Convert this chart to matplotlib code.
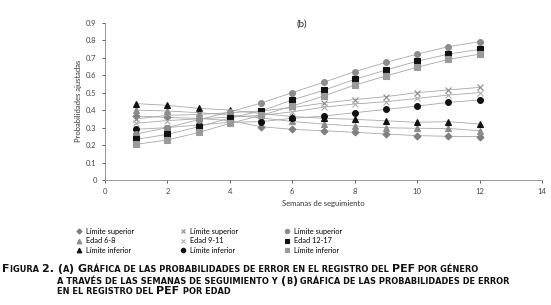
import numpy as np
import matplotlib
matplotlib.use('Agg')
import matplotlib.pyplot as plt

weeks = [1, 2, 3, 4, 5, 6, 7, 8, 9, 10, 11, 12]
sup_6_8 = [0.366, 0.358, 0.352, 0.34, 0.305, 0.29, 0.282, 0.273, 0.263, 0.254, 0.25, 0.248]
edad_6_8 = [0.40, 0.395, 0.385, 0.372, 0.355, 0.335, 0.32, 0.309, 0.299, 0.296, 0.295, 0.282]
inf_6_8 = [0.437, 0.427, 0.41, 0.40, 0.38, 0.363, 0.353, 0.347, 0.339, 0.33, 0.334, 0.32]
sup_9_11 = [0.35, 0.37, 0.375, 0.385, 0.395, 0.415, 0.44, 0.46, 0.477, 0.50, 0.515, 0.53]
edad_9_11 = [0.325, 0.34, 0.35, 0.36, 0.37, 0.39, 0.416, 0.435, 0.448, 0.467, 0.486, 0.50]
inf_9_11 = [0.29, 0.30, 0.315, 0.33, 0.334, 0.353, 0.366, 0.385, 0.404, 0.423, 0.444, 0.458]
sup_12_17 = [0.263, 0.30, 0.345, 0.39, 0.44, 0.50, 0.559, 0.62, 0.673, 0.72, 0.763, 0.791]
edad_12_17 = [0.233, 0.261, 0.305, 0.355, 0.395, 0.458, 0.513, 0.576, 0.629, 0.68, 0.72, 0.748]
inf_12_17 = [0.204, 0.229, 0.272, 0.324, 0.37, 0.423, 0.48, 0.543, 0.595, 0.645, 0.69, 0.72]

labels = ['Límite superior', 'Edad 6-8', 'Límite inferior',
          'Límite superior', 'Edad 9-11', 'Límite inferior',
          'Límite superior', 'Edad 12-17', 'Límite inferior']

plt.rcParams['font.family'] = ['Lato', 'DejaVu Sans']

fig = plt.figure(figsize=(5.51, 3.05), dpi=100)
ax = fig.add_axes([0.1906, 0.4098, 0.7931, 0.5158])

series = [sup_6_8, edad_6_8, inf_6_8, sup_9_11, edad_9_11, inf_9_11,
          sup_12_17, edad_12_17, inf_12_17]
styles = [('D', '#7f7f7f', 3.5), ('^', '#8c8c8c', 4.5), ('^', '#111111', 4.5),
          ('x', '#8a8a8a', 4.5), ('x', '#b0b0b0', 4.5), ('o', '#111111', 4.2),
          ('o', '#8c8c8c', 4.2), ('s', '#111111', 4.2), ('s', '#9a9a9a', 4.2)]
for vals, (m, c, s), lab in zip(series, styles, labels):
    ax.plot(weeks, vals, color='#a8a8a8', lw=0.6, marker=m, ms=s,
            mfc=c, mec=c, mew=0.8, label=lab)

ax.set_xlim(0, 14)
ax.set_ylim(0, 0.9)
ax.set_xticks(range(0, 15, 2))
ax.set_yticks(np.arange(0, 0.91, 0.1))
ax.set_yticklabels(['0'] + ['%.1f' % v for v in np.arange(0.1, 0.91, 0.1)])
ax.tick_params(labelsize=5.5, colors='#444444', length=2.5, width=0.6)
for side in ['top', 'right']:
    ax.spines[side].set_visible(False)
for side in ['left', 'bottom']:
    ax.spines[side].set_color('#888888')
    ax.spines[side].set_linewidth(0.6)
ax.set_ylabel('Probabilidades ajustadas', fontsize=5.5, color='#333333', labelpad=3)
ax.set_xlabel('Semanas de seguimiento', fontsize=5.5, color='#333333', labelpad=3)
ax.text(6.3, 0.89, '(b)', fontsize=7, color='#222222', ha='center', va='center')

handles, labs = ax.get_legend_handles_labels()
fig.legend(handles, labs, ncol=3, loc='upper left', bbox_to_anchor=(0.125, 0.275),
           frameon=False, fontsize=5.3, handlelength=0.9, handletextpad=0.5,
           columnspacing=6.2, labelspacing=0.35, markerscale=0.75)
for h in fig.legends[0].legend_handles:
    h.set_linestyle('None')

# caption in small caps, built from pieces of two sizes
big, small = 7.9, 5.95
cap_font = 'DejaVu Sans'
lines = [
    (0.004, 0.107, [('F', big), ('IGURA ', small), ('2. (', big), ('A', small), (') ', big),
                    ('G', big), ('RÁFICA DE LAS PROBABILIDADES DE ERROR EN EL REGISTRO DEL ', small),
                    ('PEF', big), (' POR GÉNERO', small)]),
    (0.104, 0.070, [('A TRAVÉS DE LAS SEMANAS DE SEGUIMIENTO Y ', small), ('(', big), ('B', small),
                    (')', big), (' GRÁFICA DE LAS PROBABILIDADES DE ERROR', small)]),
    (0.104, 0.036, [('EN EL REGISTRO DEL ', small), ('PEF', big), (' POR EDAD', small)]),
]
for x0, y0, parts in lines:
    last = None
    for txt, sz in parts:
        if last is None:
            last = fig.text(x0, y0, txt, fontsize=sz, fontweight='bold', color='#111111',
                            family=cap_font, va='baseline', ha='left')
        else:
            last = ax.annotate(txt, xy=(1, 0), xycoords=last, fontsize=sz, fontweight='bold',
                               family=cap_font, color='#111111', va='bottom', ha='left',
                               annotation_clip=False)

fig.savefig('out.png', dpi=100)
